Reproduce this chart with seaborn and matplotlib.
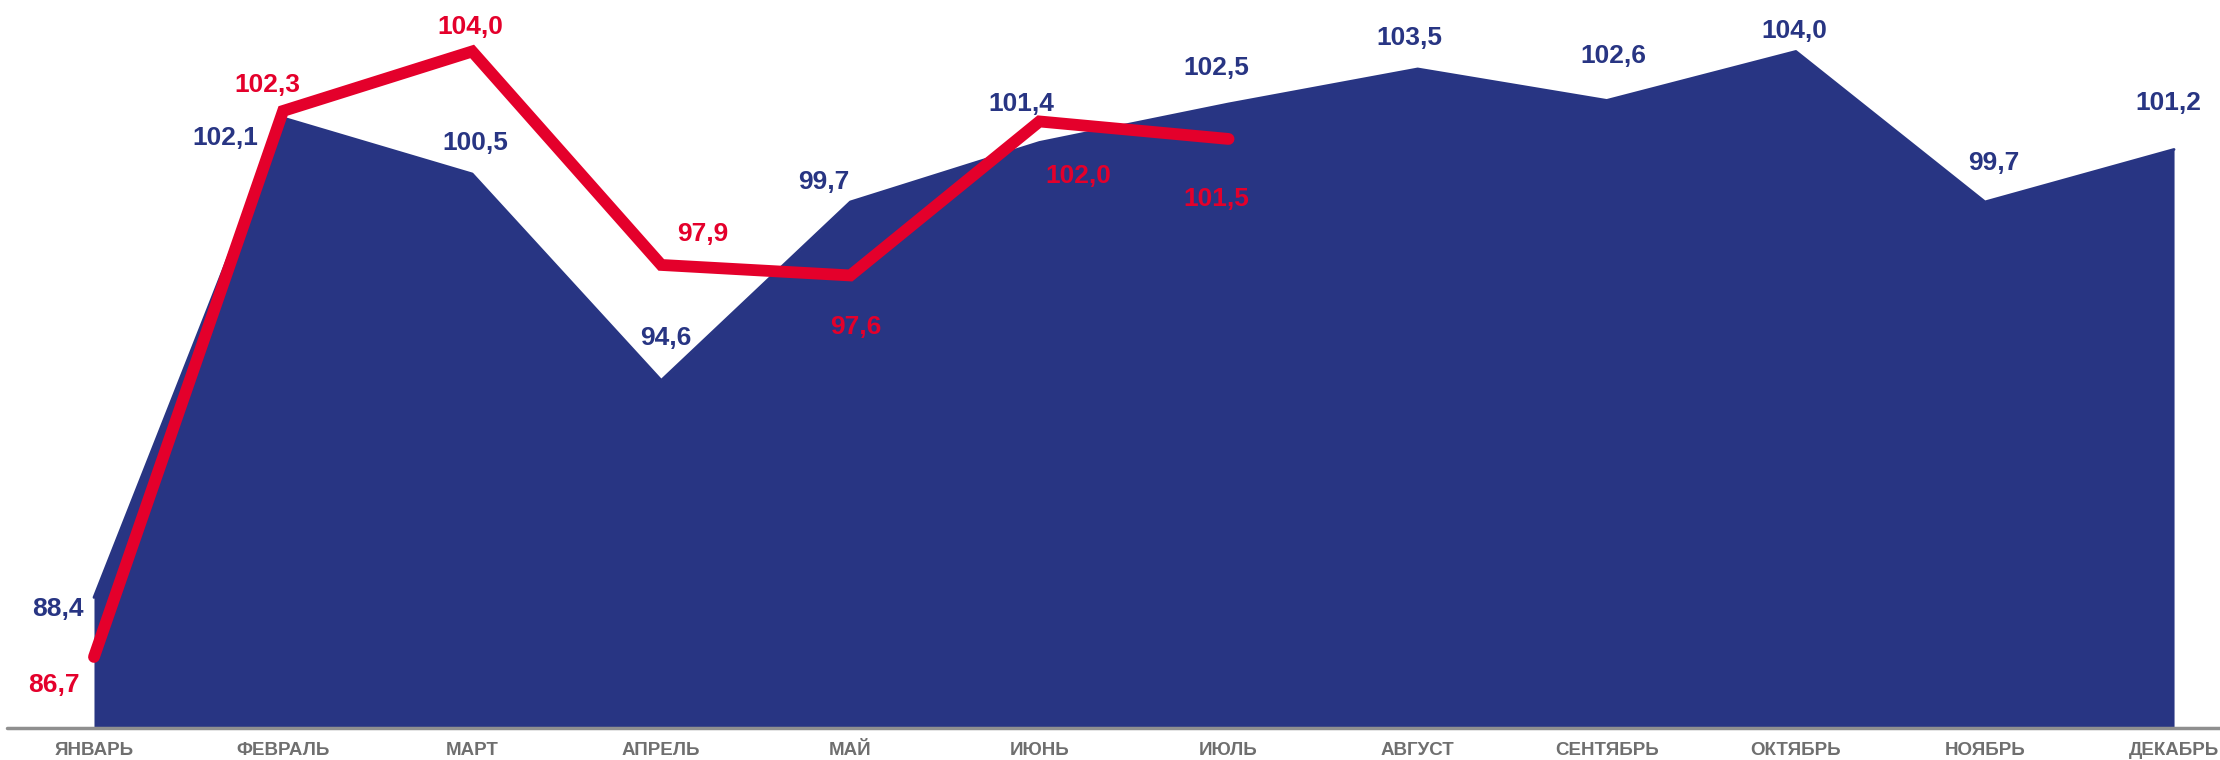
import matplotlib
matplotlib.use("Agg")
import matplotlib.pyplot as plt
import seaborn as sns
import pandas as pd

# данные
months = ["ЯНВАРЬ", "ФЕВРАЛЬ", "МАРТ", "АПРЕЛЬ", "МАЙ", "ИЮНЬ", "ИЮЛЬ",
          "АВГУСТ", "СЕНТЯБРЬ", "ОКТЯБРЬ", "НОЯБРЬ", "ДЕКАБРЬ"]
prev_year = [88.4, 102.1, 100.5, 94.6, 99.7, 101.4, 102.5, 103.5, 102.6, 104.0, 99.7, 101.2]
cur_year = [86.7, 102.3, 104.0, 97.9, 97.6, 102.0, 101.5]

BLUE = "#283583"
RED = "#E4002B"
GREY = "#6F6F6F"

# смещения подписей в пикселях (dx, dy), dy вверх
blue_offsets = [(-36, -12), (-58, -20), (3, 31), (5, 42), (-27, 20), (-18, 38),
                (-12, 36), (-8, 31), (7, 44), (-2, 20), (9, 39), (-6, 46)]
red_offsets = [(-40, -28), (-16, 26), (-2, 24), (41, 31), (5, -52), (39, -55), (-12, -60)]

sns.set_style("white")
plt.rcParams["font.family"] = ["Liberation Sans", "DejaVu Sans"]

df_prev = pd.DataFrame({"x": range(len(prev_year)), "v": prev_year})
df_cur = pd.DataFrame({"x": range(len(cur_year)), "v": cur_year})

fig = plt.figure(figsize=(22.2, 7.6), dpi=100)
ax = fig.add_axes([7 / 2220, 32 / 760, 1 - 7 / 2220, 1 - 32 / 760])

y0, y1 = 84.67, 105.47
ax.set_ylim(y0, y1)
ax.set_xlim(-0.46, 11.243)

# область прошлого года
ax.fill_between(df_prev["x"], df_prev["v"], y0, color=BLUE, linewidth=0, zorder=1)
sns.lineplot(data=df_prev, x="x", y="v", ax=ax, color=BLUE, linewidth=2,
             solid_joinstyle="round", zorder=2)

# линия текущего года
sns.lineplot(data=df_cur, x="x", y="v", ax=ax, color=RED, linewidth=8.5,
             solid_joinstyle="miter", solid_capstyle="round", zorder=3)

ax.axhline(y0, color="#8F8F8F", linewidth=2.5, zorder=4, clip_on=False)

for i, v in enumerate(prev_year):
    dx, dy = blue_offsets[i]
    ax.annotate(f"{v:.1f}".replace(".", ","), (i, v), xytext=(dx, dy),
                textcoords="offset pixels", ha="center", va="center",
                fontsize=19, fontweight="bold", color=BLUE, zorder=5)

for i, v in enumerate(cur_year):
    dx, dy = red_offsets[i]
    ax.annotate(f"{v:.1f}".replace(".", ","), (i, v), xytext=(dx, dy),
                textcoords="offset pixels", ha="center", va="center",
                fontsize=19, fontweight="bold", color=RED, zorder=5)

ax.set_xticks(range(len(months)))
ax.set_xticklabels(months, fontsize=13.5, fontweight="bold", color=GREY)
ax.tick_params(axis="x", length=0, pad=10)
ax.set_yticks([])
ax.set_xlabel("")
ax.set_ylabel("")
for s in ax.spines.values():
    s.set_visible(False)
if ax.get_legend():
    ax.get_legend().remove()

fig.savefig("out.png", dpi=100)
